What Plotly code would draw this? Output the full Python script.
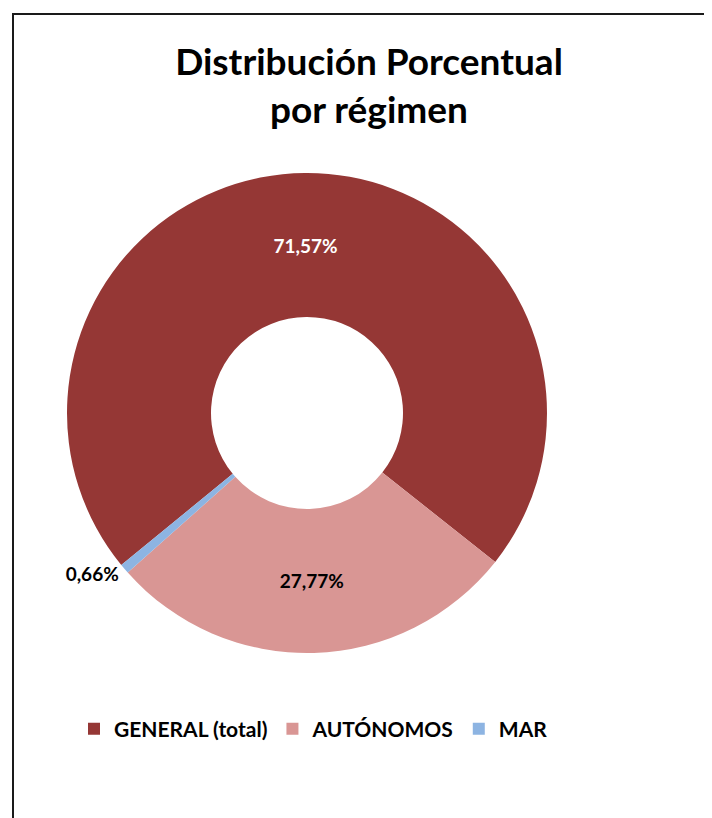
import plotly.graph_objects as go

W, H = 712, 818

regimenes = ["GENERAL (total)", "AUTÓNOMOS", "MAR"]
porcentajes = [71.57, 27.77, 0.66]
colores = ["#953735", "#D99694", "#8DB4E2"]
colores_texto = ["white", "black", "black"]
posiciones_texto = ["inside", "inside", "outside"]

# centro del anillo y radio (px), corregido por el desplazamiento de plotly
cx, cy, r = 299, 405, 240

fig = go.Figure()

fig.add_trace(
    go.Pie(
        labels=["<b>%s</b>" % l for l in regimenes],
        values=porcentajes,
        hole=0.40,
        sort=False,
        direction="clockwise",
        rotation=230.7,
        marker=dict(colors=colores, line=dict(width=0)),
        texttemplate="<b>%{percent:.2%}</b>",
        textposition=posiciones_texto,
        insidetextorientation="horizontal",
        textfont=dict(family="Lato", size=19, color=colores_texto),
        outsidetextfont=dict(family="Lato", size=19, color="black"),
        hoverinfo="label+percent",
        domain=dict(
            x=[(cx - r) / W, (cx + r) / W],
            y=[(H - cy - r) / H, (H - cy + r) / H]
        )
    )
)

fig.update_layout(
    width=W,
    height=H,
    margin=dict(l=0, r=0, t=0, b=0),
    paper_bgcolor="white",
    plot_bgcolor="white",
    separators=",.",
    font=dict(family="Lato", color="black"),
    title=dict(
        text="<b>Distribución Porcentual<br>por régimen</b>",
        font=dict(family="Lato", size=37, color="black"),
        x=361 / W,
        xanchor="center",
        y=1 - 67 / H,
        yanchor="top",
        yref="container"
    ),
    showlegend=True,
    legend=dict(
        orientation="h",
        x=66 / W,
        xanchor="left",
        y=1 - 721 / H,
        yanchor="middle",
        font=dict(family="Lato", size=21, color="black"),
        itemclick=False
    ),
    shapes=[
        dict(
            type="rect",
            xref="paper",
            yref="paper",
            x0=5 / W,
            x1=1.05,
            y0=-0.05,
            y1=1 - 6 / H,
            line=dict(color="#1a1a1a", width=2),
            fillcolor="rgba(0,0,0,0)"
        )
    ]
)

fig.write_html("out.html")
